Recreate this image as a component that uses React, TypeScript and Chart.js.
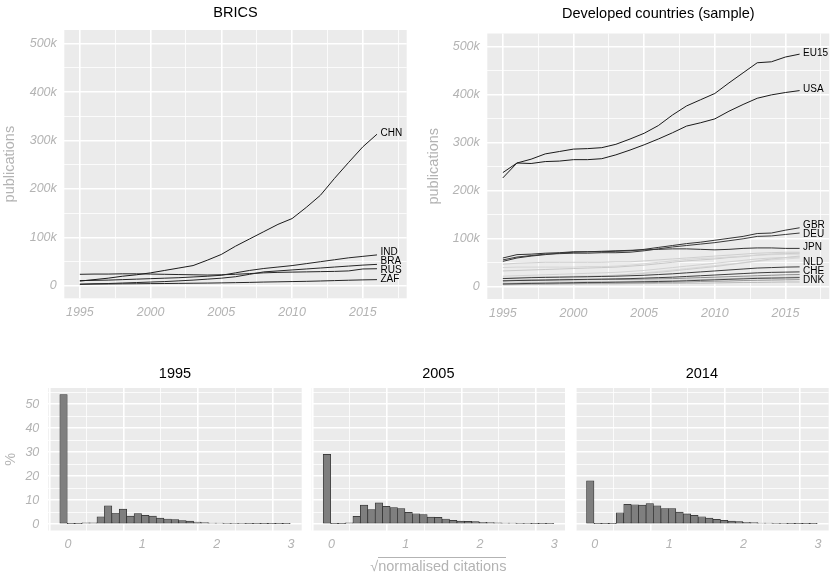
import { useEffect, useRef } from "react"
import { Chart, registerables } from "chart.js"

Chart.register(...registerables)

const FONT = "'Liberation Sans', Arial, sans-serif"
const GREY_TEXT = "#b3b3b3"
const PANEL_BG = "#ebebeb"
const MAJOR_GRID = 1.6
const MINOR_GRID = 0.8

// publication counts, thousands
const years = [1995, 1996, 1997, 1998, 1999, 2000, 2001, 2002, 2003, 2004, 2005, 2006, 2007, 2008, 2009, 2010, 2011, 2012, 2013, 2014, 2015, 2016]

const chn = [10, 13, 16, 20, 23, 27, 32, 37, 42, 53, 65, 82, 97, 112, 127, 139, 162, 187, 222, 255, 287, 313]
const ind = [11, 11.5, 12, 13, 14, 15, 16, 17, 18.5, 20, 22, 27, 32, 36, 39, 42, 46, 50, 54, 58, 61, 64]
const bra = [3.5, 4.5, 5, 6, 7, 8, 9, 10.5, 12, 14, 16, 19, 24, 29, 31, 33, 35, 37, 39, 41, 43, 44.5]
const rus = [24, 24.5, 24.5, 25, 25, 24.5, 24, 23.5, 23, 22.5, 23, 24, 25.5, 27, 28, 28.5, 29, 29.5, 30, 31, 35, 35.5]
const zaf = [3.5, 3.8, 4, 4.3, 4.5, 4.8, 5, 5.3, 5.6, 5.9, 6.3, 6.8, 7.3, 8, 8.5, 9, 9.5, 10.2, 11, 11.8, 12.5, 13]

const eu15 = [227, 258, 266, 277, 282, 287, 288, 290, 297, 308, 320, 336, 358, 377, 390, 403, 425, 446, 467, 469, 479, 485]
const usa = [238, 258, 257, 261, 262, 265, 265, 267, 275, 285, 296, 308, 321, 335, 342, 350, 366, 380, 393, 400, 405, 409]
const gbr = [60, 67, 68, 70, 71, 73, 73, 73, 74, 75, 78, 82, 86, 90, 93, 97, 101, 105, 111, 112, 118, 123]
const deu = [56, 62, 65, 68, 69, 70, 70, 71, 71, 72, 75, 79, 83, 86, 89, 92, 96, 100, 105, 106, 109, 112]
const jpn = [53, 60, 64, 67, 70, 72, 73, 74, 75, 76, 77, 78, 79, 79, 78, 77, 78, 80, 81, 81, 80, 80]
const nld = [17, 18, 19, 19.5, 20, 20.5, 21, 21.5, 22, 23, 24, 25.5, 27, 29, 31, 33, 35, 37, 39, 40, 41, 41.5]
const che = [12, 13, 13.5, 14, 14.5, 15, 15.5, 16, 16.5, 17, 18, 19, 20, 21.5, 23, 24.5, 26, 27.5, 29, 30, 30.5, 31]
const dnk = [6, 6.5, 7, 7.5, 8, 8.5, 9, 9, 9.5, 10, 10.5, 11, 11.5, 12.5, 13.5, 14.5, 15.5, 16.5, 17.5, 18, 18.5, 19]

// unlabelled countries of the sample
const other1 = [47, 49, 50, 51, 51, 51, 51, 51, 52, 52, 54, 56, 58, 60, 62, 64, 66, 68, 70, 71, 72, 72]
const other2 = [40, 41, 41, 41, 41, 41, 42, 42, 43, 45, 48, 51, 54, 57, 59, 60, 62, 64, 66, 67, 68, 68]
const other3 = [33, 34, 35, 36, 37, 38, 39, 40, 41, 43, 45, 48, 51, 54, 56, 58, 61, 63, 66, 68, 69, 70]
const other4 = [22, 23, 24, 25, 26, 27, 28, 29, 30, 32, 34, 37, 40, 43, 46, 49, 52, 55, 58, 60, 61, 62]
const other5 = [18, 19, 20, 21, 21, 22, 22, 23, 24, 26, 28, 30, 33, 36, 39, 42, 46, 50, 54, 58, 61, 64]
const other6 = [8, 10, 12, 14, 16, 18, 20, 22, 24, 26, 29, 32, 35, 38, 41, 44, 47, 50, 53, 56, 58, 60]
const other7 = [13, 13.5, 14, 14, 14.5, 14.5, 15, 15, 15, 15.5, 16, 16.5, 17, 18, 19, 20, 21, 22, 23, 24, 25, 25.5]
const other8 = [8, 8.5, 9, 9.5, 10, 10, 10.5, 11, 11, 11.5, 12, 12.5, 13, 14, 15, 16, 17, 18, 19, 19.5, 20, 20.5]
const other9 = [5, 5.5, 6, 6, 6.5, 7, 7, 7.5, 7.5, 8, 8.5, 9, 9.5, 10, 11, 11.5, 12, 13, 13.5, 14, 14.5, 15]
const other10 = [4, 4.5, 5, 5, 5.5, 5.5, 6, 6, 6, 6.5, 6.5, 7, 7, 7.5, 7.5, 8, 8.5, 9, 9, 9.5, 10, 10]

// histograms of sqrt(normalised citations), % of papers per bin
const binCenters = [-0.06, 0.04, 0.14, 0.24, 0.34, 0.44, 0.54, 0.64, 0.74, 0.84, 0.94, 1.04, 1.14, 1.24, 1.34, 1.44, 1.54, 1.64, 1.74, 1.84, 1.94, 2.04, 2.14, 2.24, 2.34, 2.44, 2.54, 2.64, 2.74, 2.84, 2.94]
const share1995 = [54, 0.1, 0.1, 0.5, 0.5, 3.0, 7.6, 4.6, 6.2, 3.3, 4.4, 3.6, 3.3, 2.5, 2.1, 1.8, 1.4, 1.2, 0.8, 0.55, 0.4, 0.35, 0.3, 0.25, 0.2, 0.15, 0.15, 0.1, 0.1, 0.1, 0.1]
const share2005 = [29, 0.1, 0.1, 0.5, 3.2, 7.9, 6.0, 8.8, 7.4, 6.9, 6.4, 4.9, 4.3, 3.9, 2.9, 2.8, 2.1, 1.5, 1.25, 1.1, 1.0, 0.7, 0.55, 0.5, 0.4, 0.35, 0.3, 0.2, 0.15, 0.15, 0.15]
const share2014 = [18, 0.1, 0.1, 0.1, 4.7, 8.2, 8.05, 7.9, 8.5, 7.6, 6.4, 6.4, 5.0, 4.2, 3.6, 3.05, 2.5, 1.95, 1.5, 1.25, 1.0, 0.7, 0.55, 0.4, 0.35, 0.3, 0.25, 0.15, 0.1, 0.1, 0.1]

const isMultiple = (v: number, m: number) => Math.abs(v / m - Math.round(v / m)) < 1e-6

const panelBackground = {
  id: "panelBackground",
  beforeDraw(chart: any) {
    const { ctx, chartArea: a } = chart
    ctx.save()
    ctx.fillStyle = PANEL_BG
    ctx.fillRect(a.left, a.top, a.right - a.left, a.bottom - a.top)
    ctx.restore()
  },
}

// text at the end of labelled lines, nudged apart when they collide
const endLabels = {
  id: "endLabels",
  afterDatasetsDraw(chart: any) {
    const items: { text: string; x: number; y: number }[] = []
    chart.data.datasets.forEach((ds: any, i: number) => {
      if (!ds.endLabel) return
      const pts = chart.getDatasetMeta(i).data
      const last = pts[pts.length - 1]
      items.push({ text: ds.label, x: last.x, y: last.y })
    })
    items.sort((a, b) => a.y - b.y)
    const gap = 9
    for (let n = 0; n < 60; n++) {
      for (let j = 1; j < items.length; j++) {
        const d = items[j].y - items[j - 1].y
        if (d < gap) {
          items[j - 1].y -= (gap - d) / 2
          items[j].y += (gap - d) / 2
        }
      }
    }
    const { ctx } = chart
    ctx.save()
    ctx.font = `10px ${FONT}`
    ctx.fillStyle = "#000"
    ctx.textBaseline = "middle"
    items.forEach((it) => ctx.fillText(it.text, it.x + 3.5, it.y - 1))
    ctx.restore()
  },
}

const tickFont = { family: FONT, size: 12.5, style: "italic" as const }

function line(code: string, values: number[], color: string, labelled: boolean) {
  return {
    label: code,
    data: values.map((v, i) => ({ x: years[i], y: v })),
    borderColor: color,
    borderWidth: 1,
    pointRadius: 0,
    tension: 0,
    fill: false,
    endLabel: labelled,
  }
}

function lineConfig(title: string, datasets: any[], box: { yWidth: number; xHeight: number; padRight: number; titleTop: number; titleBottom: number; yTitlePad: number }) {
  return {
    type: "line",
    data: { datasets },
    plugins: [panelBackground, endLabels],
    options: {
      animation: false,
      responsive: false,
      layout: { padding: { left: 0, right: box.padRight, top: 0, bottom: 0 } },
      plugins: {
        legend: { display: false },
        tooltip: { enabled: false },
        title: {
          display: true,
          text: title,
          color: "#000",
          fullSize: false,
          font: { family: FONT, size: 14.5, weight: "normal" },
          padding: { top: box.titleTop, bottom: box.titleBottom },
        },
      },
      scales: {
        x: {
          type: "linear",
          min: 1993.9,
          max: 2018.1,
          border: { display: false },
          grid: { color: "#fff", drawTicks: false, lineWidth: (c: any) => (c.tick && isMultiple(c.tick.value, 5) ? MAJOR_GRID : MINOR_GRID) },
          ticks: {
            stepSize: 2.5,
            includeBounds: false,
            autoSkip: false,
            maxRotation: 0,
            padding: 7,
            color: GREY_TEXT,
            font: tickFont,
            callback: (v: number) => (isMultiple(v, 5) ? String(Math.round(v)) : ""),
          },
          afterFit: (s: any) => {
            s.height = box.xHeight
          },
        },
        y: {
          type: "linear",
          min: -25.5,
          max: 528,
          border: { display: false },
          grid: { color: "#fff", drawTicks: false, lineWidth: (c: any) => (c.tick && isMultiple(c.tick.value, 100) ? MAJOR_GRID : MINOR_GRID) },
          ticks: {
            stepSize: 50,
            includeBounds: false,
            autoSkip: false,
            padding: 7.5,
            color: GREY_TEXT,
            font: tickFont,
            callback: (v: number) => (isMultiple(v, 100) ? (Math.round(v) === 0 ? "0" : `${Math.round(v)}k`) : ""),
          },
          title: {
            display: true,
            text: "publications",
            color: GREY_TEXT,
            font: { family: FONT, size: 14.5 },
            padding: { top: box.yTitlePad, bottom: 0 },
          },
          afterFit: (s: any) => {
            s.width = box.yWidth
          },
        },
      },
    },
  }
}

function histConfig(title: string, values: number[], box: { yWidth: number; padRight: number; showY: boolean }) {
  return {
    type: "bar",
    data: {
      datasets: [
        {
          data: binCenters.map((x, i) => ({ x, y: values[i] })),
          backgroundColor: "#7f7f7f",
          borderColor: "#2b2b2b",
          borderWidth: 0.7,
          borderSkipped: false,
          barPercentage: 1,
          categoryPercentage: 1,
        },
      ],
    },
    plugins: [panelBackground],
    options: {
      animation: false,
      responsive: false,
      layout: { padding: { left: 0, right: box.padRight, top: 0, bottom: 0 } },
      plugins: {
        legend: { display: false },
        tooltip: { enabled: false },
        title: {
          display: true,
          text: title,
          color: "#000",
          fullSize: false,
          font: { family: FONT, size: 14.5, weight: "normal" },
          padding: { top: 25.6, bottom: 5 },
        },
      },
      scales: {
        x: {
          type: "linear",
          min: -0.265,
          max: 3.145,
          offset: false,
          border: { display: false },
          grid: { color: "#fff", drawTicks: false, lineWidth: (c: any) => (c.tick && isMultiple(c.tick.value, 1) ? MAJOR_GRID : MINOR_GRID) },
          ticks: {
            stepSize: 0.5,
            includeBounds: false,
            autoSkip: false,
            maxRotation: 0,
            padding: 6.5,
            color: GREY_TEXT,
            font: tickFont,
            callback: (v: number) => (isMultiple(v, 1) ? String(Math.round(v)) : ""),
          },
          afterFit: (s: any) => {
            s.height = 46.5
          },
        },
        y: {
          type: "linear",
          min: -2.7,
          max: 56.7,
          border: { display: false },
          grid: { color: "#fff", drawTicks: false, lineWidth: (c: any) => (c.tick && isMultiple(c.tick.value, 10) ? MAJOR_GRID : MINOR_GRID) },
          ticks: {
            display: box.showY,
            stepSize: 5,
            includeBounds: false,
            autoSkip: false,
            padding: 9,
            color: GREY_TEXT,
            font: tickFont,
            callback: (v: number) => (isMultiple(v, 10) ? String(Math.round(v)) : ""),
          },
          title: {
            display: box.showY,
            text: "%",
            color: GREY_TEXT,
            font: { family: FONT, size: 14.5 },
            padding: { top: 2.3, bottom: 0 },
          },
          afterFit: (s: any) => {
            s.width = box.yWidth
          },
        },
      },
    },
  }
}

const bricsChart = () =>
  lineConfig(
    "BRICS",
    [
      line("CHN", chn, "#1a1a1a", true),
      line("IND", ind, "#262626", true),
      line("BRA", bra, "#262626", true),
      line("RUS", rus, "#262626", true),
      line("ZAF", zaf, "#262626", true),
    ],
    { yWidth: 64.3, xHeight: 31.7, padRight: 8.3, titleTop: 4.6, titleBottom: 8, yTitlePad: 1.3 }
  )

const developedChart = () =>
  lineConfig(
    "Developed countries (sample)",
    [
      line("EU15", eu15, "#1a1a1a", true),
      line("USA", usa, "#1a1a1a", true),
      line("GBR", gbr, "#333333", true),
      line("DEU", deu, "#3a3a3a", true),
      line("JPN", jpn, "#333333", true),
      line("NLD", nld, "#3d3d3d", true),
      line("CHE", che, "#3d3d3d", true),
      line("DNK", dnk, "#444444", true),
      line("other7", other7, "#8c8c8c", false),
      line("other9", other9, "#9a9a9a", false),
      line("other1", other1, "#cfcfcf", false),
      line("other2", other2, "#d6d6d6", false),
      line("other3", other3, "#c8c8c8", false),
      line("other4", other4, "#d2d2d2", false),
      line("other5", other5, "#cccccc", false),
      line("other6", other6, "#d9d9d9", false),
      line("other8", other8, "#c2c2c2", false),
      line("other10", other10, "#bdbdbd", false),
    ],
    { yWidth: 72.3, xHeight: 31, padRight: 5.7, titleTop: 5.3, titleBottom: 10.8, yTitlePad: 10.3 }
  )

const hist1995 = () => histConfig("1995", share1995, { yWidth: 48.3, padRight: 4.3, showY: true })
const hist2005 = () => histConfig("2005", share2005, { yWidth: 5.7, padRight: 5, showY: false })
const hist2014 = () => histConfig("2014", share2014, { yWidth: 5, padRight: 6.3, showY: false })

interface PanelProps {
  left: number
  top: number
  width: number
  height: number
  build: () => any
}

function Panel({ left, top, width, height, build }: PanelProps) {
  const canvasRef = useRef<HTMLCanvasElement>(null)
  const chartInstance = useRef<Chart | null>(null)

  useEffect(() => {
    if (!canvasRef.current) return
    if (chartInstance.current) chartInstance.current.destroy()
    chartInstance.current = new Chart(canvasRef.current, build())
    return () => {
      if (chartInstance.current) {
        chartInstance.current.destroy()
        chartInstance.current = null
      }
    }
  }, [build])

  return <canvas ref={canvasRef} width={width} height={height} style={{ position: "absolute", left, top, width, height }} />
}

export default function App() {
  return (
    <div style={{ position: "fixed", left: 0, top: 0, width: 835, height: 577, background: "#fff", overflow: "hidden" }}>
      <Panel left={0} top={0} width={415} height={330} build={bricsChart} />
      <Panel left={415} top={0} width={420} height={330} build={developedChart} />
      <Panel left={0} top={340} width={306} height={237} build={hist1995} />
      <Panel left={306} top={340} width={264} height={237} build={hist2005} />
      <Panel left={570} top={340} width={265} height={237} build={hist2014} />
      <div
        style={{
          position: "absolute",
          left: 311.7,
          width: 253.3,
          top: 558,
          textAlign: "center",
          fontFamily: FONT,
          fontSize: 14.5,
          lineHeight: "17px",
          color: GREY_TEXT,
          whiteSpace: "nowrap",
        }}
      >
        √<span style={{ borderTop: `1px solid ${GREY_TEXT}` }}>normalised citations</span>
      </div>
    </div>
  )
}
